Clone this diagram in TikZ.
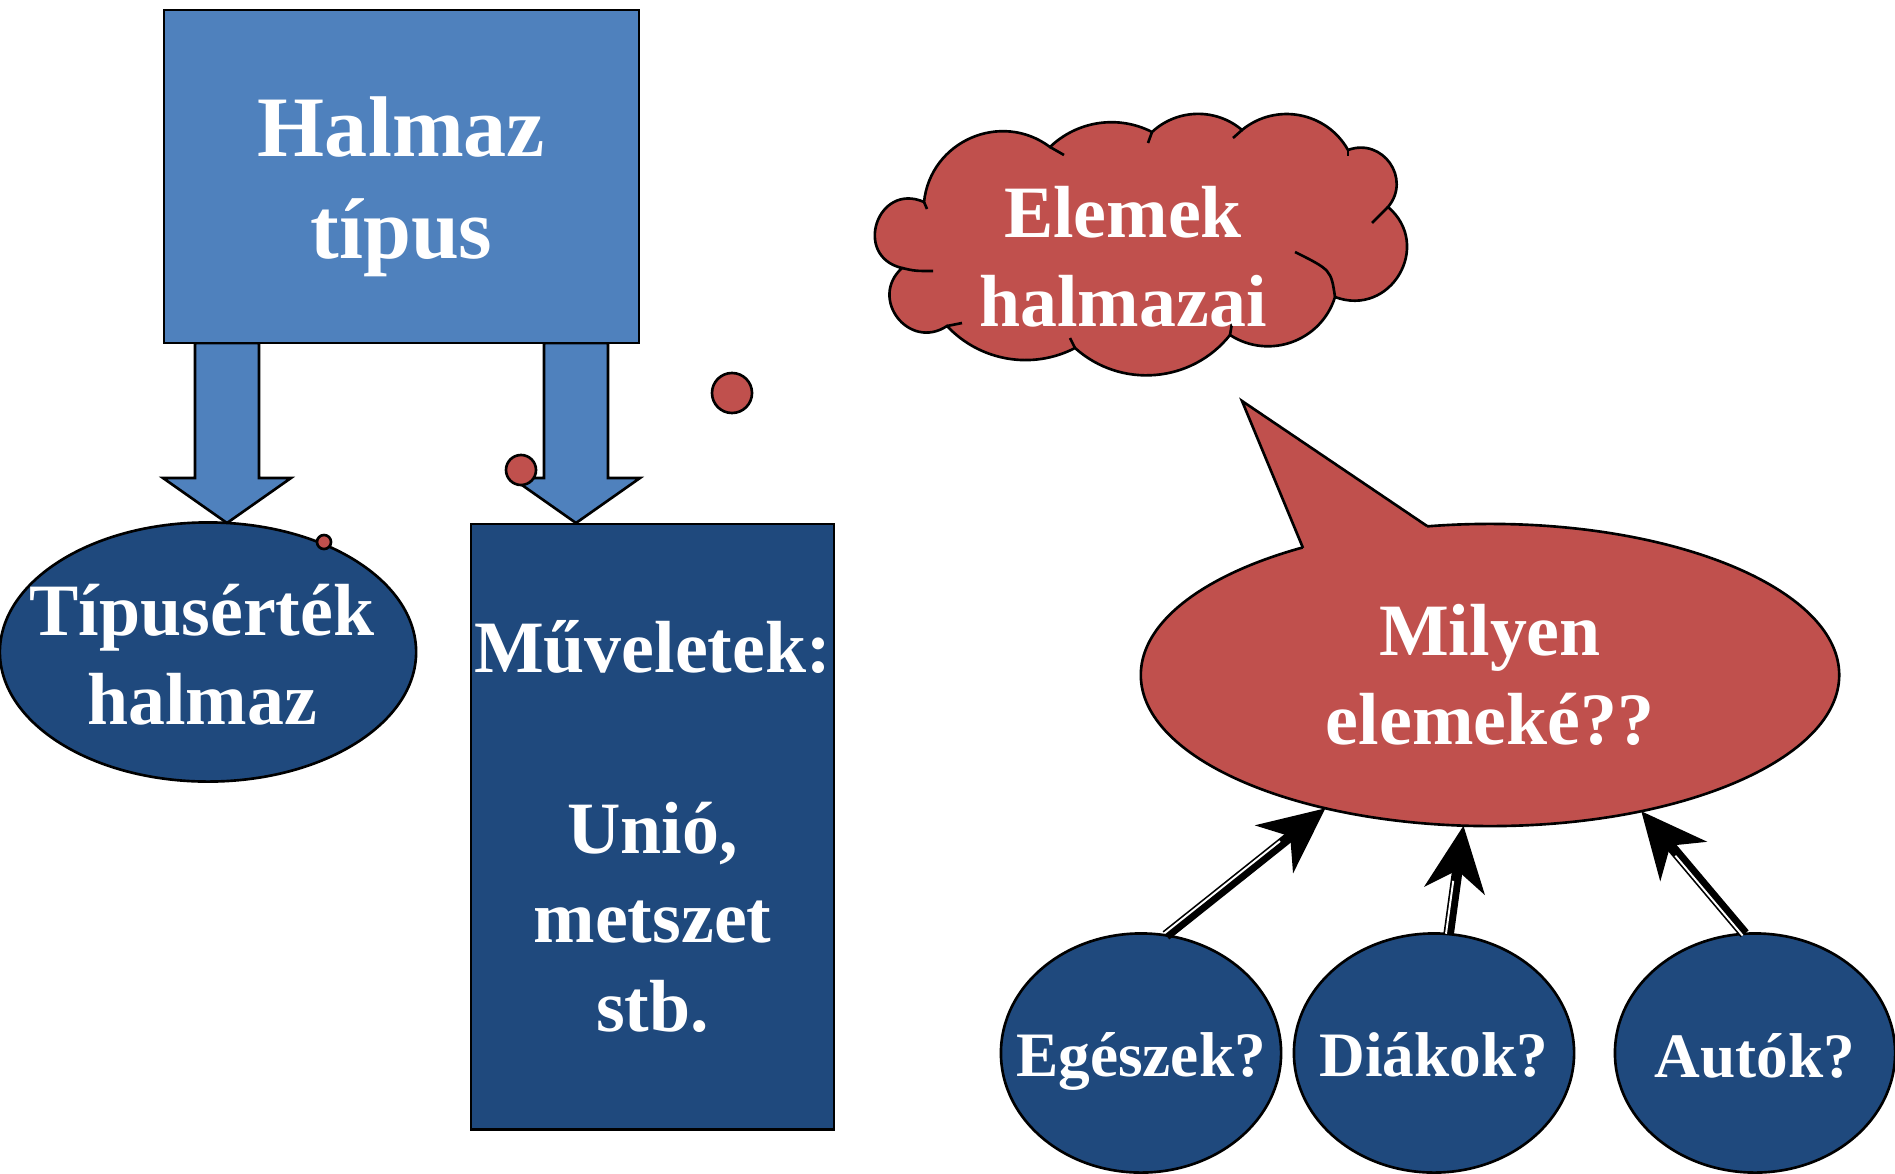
\documentclass[tikz,border=0pt]{standalone}
\usepackage{fontspec}
\setmainfont{Liberation Serif}
\usetikzlibrary{shapes.geometric,arrows.meta,calc}

\definecolor{typeblue}{RGB}{79,129,189}
\definecolor{setnavy}{RGB}{31,73,125}
\definecolor{askred}{RGB}{192,80,77}

% block arrow: axis x, top y, tip y (pixel units)
\newcommand{\blockarrow}[3]{%
  \draw[blockarr] ({#1-32},#2) -- ({#1-32},{#3-45}) -- ({#1-64},{#3-45}) -- (#1,#3)
    -- ({#1+64},{#3-45}) -- ({#1+32},{#3-45}) -- ({#1+32},#2) -- cycle;}
% thick-thin arrow from node to node
\newcommand{\tthinarrow}[2]{%
  \draw[thickthin] (#1) -- (#2);
  \draw[white, line width=0.55pt, shorten >=5.6mm]
    ($(#1)!0.75pt!90:(#2)$) -- ($(#2)!0.75pt!-90:(#1)$);}
% one round puff of the cloud: from, top of the puff, to
\newcommand{\puff}[3]{let \p1=($(#3)-(#1)$), \p2=($(#2)-0.5*(#1)-0.5*(#3)$),
    \n1={veclen(\x1,\y1)/2}, \n2={veclen(\x2,\y2)}, \n3={2*atan(\n2/\n1)},
    \n4={(\n1*\n1+\n2*\n2)/(2*\n2)}, \n5={4/3*tan(\n3/2)*\n4} in
  .. controls ($(#1)!\n5!-\n3:(#3)$) and ($(#3)!\n5!\n3:(#1)$) .. (#3)}

\begin{document}
\begin{tikzpicture}[x=0.01cm, y=-0.01cm, text=white,
  outl/.style={draw=black, line width=0.75pt},
  bigtext/.style={font=\fontsize{24.5}{29}\selectfont\bfseries, align=center},
  midtext/.style={font=\fontsize{21}{25.3}\selectfont\bfseries, align=center},
  smalltext/.style={font=\fontsize{18}{21}\selectfont\bfseries, align=center},
  blockarr/.style={outl, fill=typeblue},
  reddot/.style={circle, outl, fill=askred, inner sep=0pt, minimum size=#1},
  question/.style 2 args={ellipse, outl, fill=setnavy, minimum width=2.8cm, minimum height=2.39cm,
    inner sep=0pt, outer sep=0pt, label={[smalltext, yshift=#2]center:#1}},
  thickthin/.style={line width=3pt, -{Stealth[length=6.5mm, width=6mm, inset=2mm]}}
]
  \useasboundingbox (0,0) rectangle (1895,1173);

  % left part
  \blockarrow{227}{343}{523}
  \blockarrow{576}{343}{523}
  \node[outl, fill=typeblue, minimum width=4.75cm, minimum height=3.33cm,
    label={[bigtext, yshift=-1mm]center:Halmaz\\típus}] (halmaz) at (401.5,176.5) {};
  \node[ellipse, outl, fill=setnavy, minimum width=4.16cm, minimum height=2.59cm, inner sep=0pt,
    label={[midtext, xshift=-0.6mm, yshift=-0.3mm]center:Típusérték\\halmaz}] (tipus) at (208,652) {};
  \node[outl, fill=setnavy, minimum width=3.63cm, minimum height=6.05cm, inner sep=0pt, midtext]
    (muvelet) at (652.5,826.5) {Műveletek:\\[26pt]Unió,\\metszet\\stb.};

  \node[reddot=1.4mm] (dota) at (324,542) {};
  \node[reddot=3mm] (dotb) at (521,470) {};
  \node[reddot=4mm] (dotc) at (732,393) {};

  % cloud
  \foreach \n/\p in {1/{924,202}, 2/{902,268}, 3/{947,326}, 4/{1075,348}, 5/{1230,335},
      6/{1335,297}, 7/{1388,207}, 8/{1348,150}, 9/{1242,130}, 10/{1152,132}, 11/{1050,147}}
    \coordinate (j\n) at (\p);
  \foreach \n/\p in {1/{875,238}, 2/{891,303}, 3/{1005,358}, 4/{1150,375}, 5/{1298,339},
      6/{1405,258}, 7/{1394,172}, 8/{1292,115}, 9/{1195,114}, 10/{1100,123}, 11/{958,147}}
    \coordinate (a\n) at (\p);
  \draw[outl, fill=askred] (j1) \puff{j1}{a1}{j2} \puff{j2}{a2}{j3} \puff{j3}{a3}{j4}
    \puff{j4}{a4}{j5} \puff{j5}{a5}{j6} \puff{j6}{a6}{j7} \puff{j7}{a7}{j8}
    \puff{j8}{a8}{j9} \puff{j9}{a9}{j10} \puff{j10}{a10}{j11} \puff{j11}{a11}{j1} -- cycle;
  \draw[outl] (j1) -- (927,209);
  \draw[outl] (j2) .. controls (915,271) .. (933,271);
  \draw[outl] (j3) -- (962,323);
  \draw[outl] (j4) -- (1070,338);
  \draw[outl] (j5) -- (1232,323);
  \draw[outl] (j6) .. controls (1331,270) .. (1295,252);
  \draw[outl] (j7) -- (1372,223);
  \draw[outl] (j8) -- (1348,156);
  \draw[outl] (j9) -- (1233,138);
  \draw[outl] (j10) -- (1148,143);
  \draw[outl] (j11) -- (1064,155);
  \node[midtext] (elemek) at (1123,257) {Elemek\\halmazai};

  % speech bubble
  \path[outl, fill=askred] (1490,675) ellipse [x radius=3.49cm, y radius=1.51cm];
  \fill[askred] (1303,548) -- (1242,401) -- (1427,526) -- (1420,600) -- (1310,600) -- cycle;
  \draw[outl] (1303,548) -- (1242,401) -- (1427,526);
  \node[ellipse, minimum width=6.98cm, minimum height=3.02cm, inner sep=0pt, outer sep=0pt, midtext]
    (milyen) at (1490,675) {Milyen\\elemeké??};

  \node[question={Egészek?}{-0.8mm}] (egesz) at (1141,1053) {};
  \node[question={Diákok?}{-0.2mm}] (diak) at (1434,1053) {};
  \node[question={Autók?}{-0.3mm}] (auto) at (1755,1053) {};

  \tthinarrow{egesz.78}{milyen.219}
  \tthinarrow{diak.83}{milyen.260}
  \tthinarrow{auto.95}{milyen.318}
\end{tikzpicture}
\end{document}
